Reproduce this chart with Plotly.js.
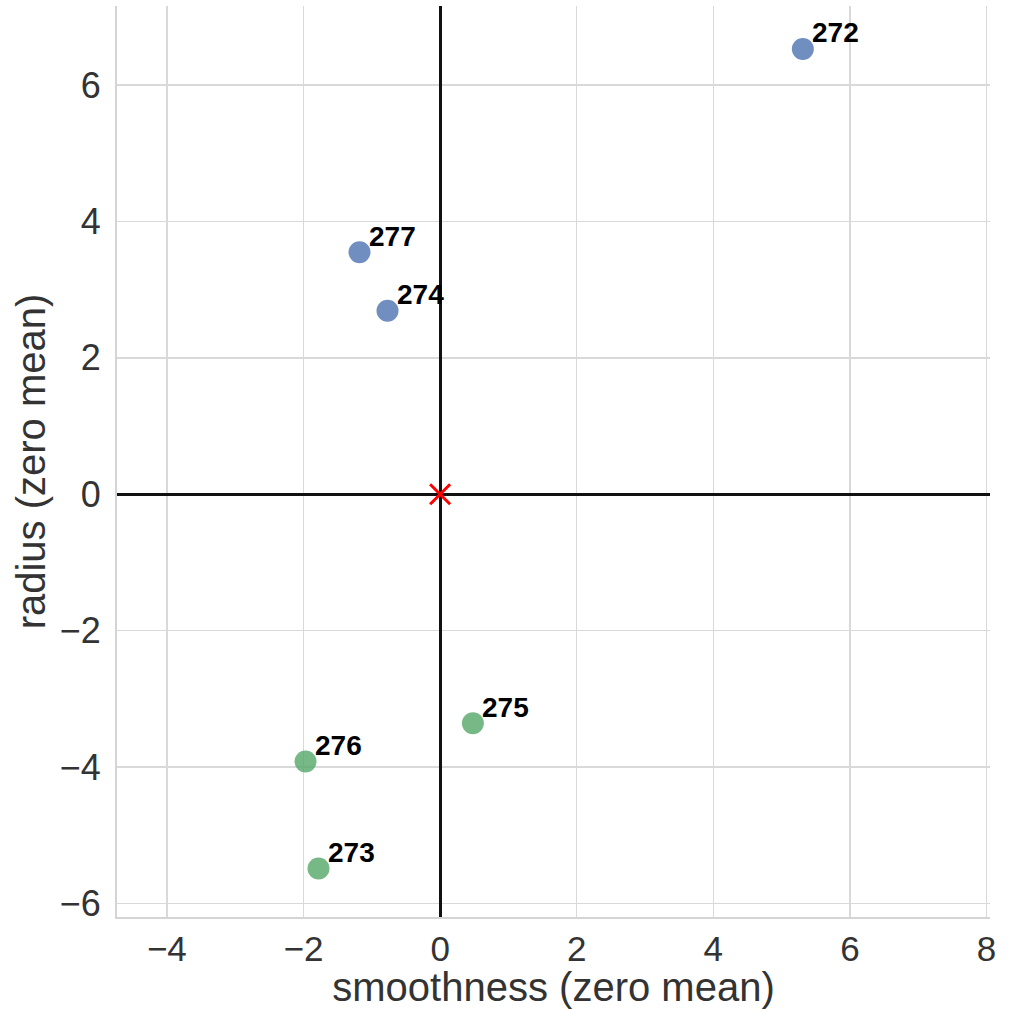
<!DOCTYPE html>
<html>
<head>
<meta charset="utf-8">
<script src="https://cdn.plot.ly/plotly-3.0.1.min.js"></script>
<style>html,body{margin:0;padding:0;background:#fff}#chart{width:1009px;height:1009px}</style>
</head>
<body>
<div id="chart"></div>
<script>
const groupA_labels = ["272", "277", "274"];
const groupA_x = [5.31, -1.18, -0.77];
const groupA_y = [6.53, 3.55, 2.69];

const groupB_labels = ["275", "276", "273"];
const groupB_x = [0.48, -1.97, -1.78];
const groupB_y = [-3.36, -3.92, -5.49];

const center_x = [0];
const center_y = [0];

const xTicks = [-4, -2, 0, 2, 4, 6, 8];
const yTicks = [-6, -4, -2, 0, 2, 4, 6];

const fmt = v => (v < 0 ? "\u2212" + Math.abs(v) : String(v));
const FONT = "Liberation Sans, Arial, sans-serif";

const traces = [
  {x: groupA_x, y: groupA_y, mode: "markers", type: "scatter",
   marker: {size: 22, color: "rgba(76,114,176,0.8)"}, hoverinfo: "skip"},
  {x: groupB_x, y: groupB_y, mode: "markers", type: "scatter",
   marker: {size: 22, color: "rgba(85,168,104,0.8)"}, hoverinfo: "skip"},
  {x: center_x, y: center_y, mode: "markers", type: "scatter",
   marker: {size: 20, symbol: "x-thin-open", color: "red", line: {color: "red", width: 3}}, hoverinfo: "skip"}
];

const annotations = [];
function addLabels(xs, ys, labels) {
  for (let i = 0; i < xs.length; i++) {
    annotations.push({x: xs[i], y: ys[i], text: "<b>" + labels[i] + "</b>", showarrow: false,
      xanchor: "left", yanchor: "middle", xshift: 7, yshift: 16,
      font: {family: FONT, size: 28, color: "#000"}});
  }
}
addLabels(groupA_x, groupA_y, groupA_labels);
addLabels(groupB_x, groupB_y, groupB_labels);

const axisCommon = {
  showgrid: true, gridcolor: "#d9d9d9", gridwidth: 1.5,
  zeroline: true, zerolinecolor: "#111", zerolinewidth: 3,
  showline: true, linecolor: "#d4d4d4", linewidth: 2,
  ticks: "", tickfont: {family: FONT, size: 36, color: "#333"},
  automargin: false
};

const layout = {
  width: 1009, height: 1009,
  margin: {l: 117, r: 19, t: 6, b: 92},
  paper_bgcolor: "#fff", plot_bgcolor: "#fff",
  showlegend: false,
  xaxis: Object.assign({}, axisCommon, {
    range: [-4.73, 8.05], tickvals: xTicks, ticktext: xTicks.map(fmt),
    ticklabelstandoff: 0,
    tickfont: {family: FONT, size: 35, color: "#333"},
    title: {text: "smoothness (zero mean)", standoff: 3,
      font: {family: FONT, size: 40, color: "#333"}}
  }),
  yaxis: Object.assign({}, axisCommon, {
    range: [-6.2, 7.16], tickvals: yTicks, ticktext: yTicks.map(fmt),
    ticklabelstandoff: 7,
    title: {text: "radius (zero mean)", standoff: 2,
      font: {family: FONT, size: 40, color: "#333"}}
  }),
  annotations: annotations
};

Plotly.newPlot("chart", traces, layout, {staticPlot: true, displayModeBar: false});
</script>
</body>
</html>
